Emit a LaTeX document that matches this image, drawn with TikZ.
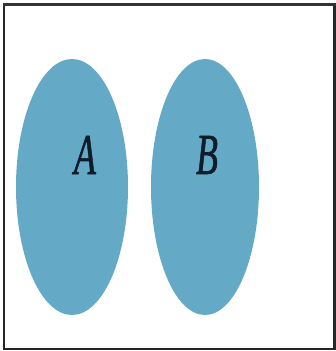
\documentclass[tikz,border=0pt]{standalone}
\usepackage{fontspec}
\setmainfont{Liberation Serif}
\newfontfamily\labelfont[FakeBold=1.2]{Liberation Serif}
\definecolor{setfill}{RGB}{100,170,199}
\definecolor{labelcol}{RGB}{15,28,42}
\begin{document}
\begin{tikzpicture}[x=1pt,y=-1pt,
  setshape/.style={fill=setfill,draw=none},
  setlabel/.style={text=labelcol,font=\labelfont\fontsize{58}{60}\selectfont\itshape,xscale=0.62,inner sep=0pt}]
\useasboundingbox (0,0) rectangle (336,351);
\fill[white] (0,0) rectangle (336,351);
\draw[line width=2.5pt,color=black!85] (4,5) rectangle (334.5,349);
\draw[line width=3.5pt,color=black!80] (2.75,4.5) -- (335.75,4.5);
\fill[setshape] (72,187) ellipse [x radius=56, y radius=128];
\fill[setshape] (205,187) ellipse [x radius=54, y radius=128];
\node[setlabel] (A) at (85,155) {A};
\node[setlabel] (B) at (207,155) {B};
\end{tikzpicture}
\end{document}
